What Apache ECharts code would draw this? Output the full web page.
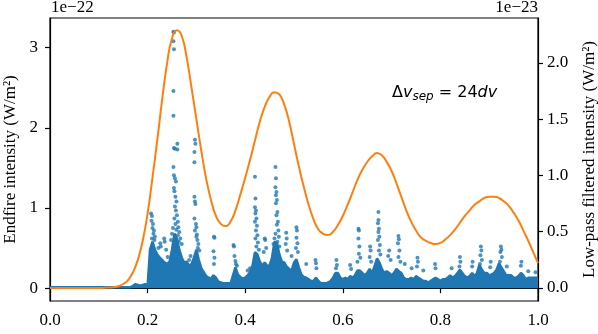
<!DOCTYPE html>
<html>
<head>
<meta charset="utf-8">
<title></title>
<script src="https://cdn.jsdelivr.net/npm/echarts@6/dist/echarts.min.js"></script>
<style>
  html, body { margin: 0; padding: 0; background: #fff; }
  #chart { width: 598px; height: 334px; }
</style>
</head>
<body>
<div id="chart"></div>
<script type="text/javascript">
// endfire intensity, dense part (units of 1e-22), sampled every 0.005 from 0
var coreStep = 0.005;
var coreTop = [
  0.01, 0.01, 0.01, 0.01, 0.01, 0.01, 0.01, 0.01, 0.01, 0.01,
  0.01, 0.01, 0.01, 0.01, 0.01, 0.01, 0.01, 0.01, 0.01, 0.01,
  0.01, 0.01, 0.01, 0.01, 0.01, 0.01, 0.01, 0.01, 0.01, 0.01,
  0.01, 0.01, 0.01, 0.01,
  0.03, 0.05, 0.04, 0.03, 0.04, 0.05, 0.03,
  0.48, 0.58, 0.48, 0.42, 0.38, 0.35, 0.32, 0.30, 0.33, 0.48,
  0.68, 0.62, 0.48, 0.38, 0.32, 0.33, 0.28, 0.30, 0.38, 0.48,
  0.35, 0.25, 0.20, 0.15, 0.13, 0.12, 0.16, 0.13, 0.08, 0.07,
  0.06, 0.06, 0.06, 0.06, 0.16, 0.26, 0.17, 0.14, 0.12,
  0.13, 0.16, 0.20, 0.28, 0.45, 0.42, 0.33, 0.28, 0.32, 0.28,
  0.28, 0.38, 0.58, 0.56, 0.42, 0.33, 0.32, 0.27, 0.24, 0.22,
  0.32, 0.36, 0.26, 0.17, 0.14, 0.13, 0.11, 0.09, 0.09, 0.13,
  0.09, 0.06, 0.06, 0.06, 0.07, 0.09, 0.13, 0.19, 0.19, 0.13,
  0.11, 0.13, 0.11, 0.15, 0.13, 0.16, 0.22, 0.22, 0.19, 0.16,
  0.19, 0.24, 0.19, 0.27, 0.37, 0.32, 0.24, 0.19, 0.21, 0.19,
  0.16, 0.19, 0.24, 0.21, 0.19, 0.13, 0.11, 0.11, 0.13, 0.11,
  0.15, 0.13, 0.11, 0.09, 0.09, 0.07, 0.09, 0.11, 0.13, 0.11,
  0.09, 0.11, 0.11, 0.13, 0.16, 0.13, 0.15, 0.19, 0.23, 0.19,
  0.15, 0.13, 0.15, 0.19, 0.15, 0.19, 0.29, 0.23, 0.19, 0.19,
  0.16, 0.17, 0.19, 0.23, 0.31, 0.26, 0.21, 0.16, 0.16, 0.16,
  0.13, 0.13, 0.15, 0.19, 0.16, 0.11, 0.13, 0.13, 0.13, 0.13,
  0.13
];

// sparse points above the dense part (units of 1e-22)
var spikeX = [
  0.207, 0.209, 0.208, 0.211, 0.210, 0.213, 0.212, 0.215, 0.209, 0.214,
  0.222, 0.226, 0.227, 0.234, 0.235, 0.238, 0.241,
  0.253, 0.254, 0.253, 0.254, 0.253, 0.253, 0.254, 0.256, 0.261, 0.261,
  0.253, 0.254, 0.256, 0.258, 0.254, 0.255, 0.257, 0.259, 0.256, 0.258,
  0.260, 0.255, 0.262, 0.257, 0.263, 0.259, 0.252, 0.265, 0.250, 0.262,
  0.267, 0.248, 0.270, 0.264,
  0.297, 0.298, 0.296, 0.296, 0.296, 0.297, 0.298, 0.296, 0.299, 0.300,
  0.297, 0.301, 0.300, 0.302, 0.304, 0.303, 0.306, 0.288, 0.285,
  0.336, 0.337, 0.335, 0.337, 0.336,
  0.376, 0.377, 0.378, 0.380, 0.381, 0.383, 0.405, 0.410,
  0.420, 0.421, 0.420, 0.422, 0.421, 0.423, 0.420, 0.424, 0.422, 0.425,
  0.421, 0.426, 0.423, 0.428, 0.440, 0.441, 0.443, 0.438,
  0.462, 0.463, 0.462, 0.464, 0.463, 0.465, 0.463, 0.466, 0.464, 0.467,
  0.465, 0.468, 0.462, 0.469, 0.466, 0.470, 0.460, 0.458,
  0.484, 0.485, 0.483, 0.486, 0.505, 0.506, 0.505, 0.507, 0.504, 0.508,
  0.495, 0.525, 0.544, 0.545, 0.546, 0.587, 0.588, 0.586, 0.615, 0.617,
  0.632, 0.633, 0.632, 0.634, 0.633, 0.636, 0.630,
  0.656, 0.657, 0.655, 0.658,
  0.673, 0.673, 0.672, 0.674, 0.673, 0.675, 0.672, 0.676, 0.674, 0.677,
  0.695, 0.693, 0.698, 0.714, 0.715, 0.713, 0.716, 0.714, 0.718, 0.727,
  0.741, 0.753, 0.754, 0.752, 0.765, 0.789, 0.790, 0.823,
  0.840, 0.841, 0.839, 0.866, 0.865,
  0.883, 0.884, 0.882, 0.885, 0.881, 0.903, 0.902,
  0.924, 0.925, 0.923, 0.926, 0.922, 0.936, 0.966, 0.965, 0.980, 0.995
];
var spikeY = [
  0.93, 0.90, 0.84, 0.80, 0.75, 0.72, 0.68, 0.64, 0.62, 0.60,
  0.50, 0.56, 0.52, 0.62, 0.58, 0.48, 0.39,
  3.20, 3.19, 3.08, 2.98, 2.46, 2.15, 1.75, 1.74, 1.80, 1.73,
  1.51, 1.41, 1.37, 1.33, 1.25, 1.21, 1.14, 1.08, 1.02, 0.97,
  0.91, 0.87, 0.83, 0.80, 0.76, 0.73, 0.75, 0.70, 0.68, 0.66,
  0.62, 0.60, 0.55, 0.58,
  1.85, 1.80, 1.70, 1.57, 1.14, 1.08, 1.05, 0.87, 0.80, 0.76,
  0.72, 0.67, 0.64, 0.60, 0.55, 0.50, 0.47, 0.40, 0.35,
  0.64, 0.63, 0.46, 0.38, 0.30,
  0.54, 0.52, 0.40, 0.34, 0.30, 0.28, 0.22, 0.25,
  1.39, 1.12, 1.01, 0.97, 0.93, 0.87, 0.83, 0.78, 0.72, 0.66,
  0.62, 0.57, 0.52, 0.48, 0.62, 0.60, 0.50, 0.45,
  1.51, 1.37, 1.26, 1.20, 1.16, 1.10, 1.06, 0.95, 0.91, 0.83,
  0.79, 0.72, 0.68, 0.64, 0.58, 0.52, 0.62, 0.55,
  0.69, 0.62, 0.55, 0.47, 0.76, 0.72, 0.63, 0.56, 0.50, 0.45,
  0.40, 0.30, 0.35, 0.31, 0.25, 0.35, 0.29, 0.25, 0.29, 0.24,
  0.74, 0.72, 0.62, 0.52, 0.43, 0.38, 0.33,
  0.52, 0.47, 0.39, 0.33,
  0.95, 0.85, 0.81, 0.74, 0.70, 0.64, 0.60, 0.54, 0.47, 0.42,
  0.47, 0.40, 0.35, 0.65, 0.61, 0.56, 0.47, 0.39, 0.33, 0.30,
  0.25, 0.38, 0.33, 0.27, 0.22, 0.30, 0.25, 0.25,
  0.39, 0.33, 0.27, 0.33, 0.27,
  0.52, 0.47, 0.41, 0.35, 0.30, 0.33, 0.26,
  0.52, 0.48, 0.45, 0.39, 0.33, 0.27, 0.33, 0.28, 0.21, 0.20
];

// low-pass filtered intensity (units of 1e-23), sampled every 0.01 from 0
var filtStep = 0.01;
var filtered = [
  0, 0, 0, 0, 0, 0, 0, 0, 0, 0, 0,
  0.001, 0.003, 0.007, 0.015, 0.035, 0.07, 0.14, 0.25, 0.42, 0.66,
  0.98, 1.32, 1.68, 2.00, 2.22, 2.29, 2.24, 2.05, 1.78, 1.50,
  1.22, 0.97, 0.78, 0.64, 0.57, 0.55, 0.59, 0.69, 0.83, 0.98,
  1.14, 1.31, 1.48, 1.61, 1.70, 1.74, 1.72, 1.63, 1.48, 1.28,
  1.08, 0.90, 0.74, 0.61, 0.52, 0.48, 0.47, 0.50, 0.56, 0.64,
  0.74, 0.85, 0.96, 1.05, 1.12, 1.17, 1.20, 1.18, 1.12, 1.04,
  0.93, 0.81, 0.69, 0.59, 0.51, 0.45, 0.42, 0.40, 0.39, 0.40,
  0.43, 0.47, 0.52, 0.58, 0.64, 0.69, 0.74, 0.77, 0.80, 0.81,
  0.81, 0.80, 0.77, 0.73, 0.67, 0.60, 0.51, 0.42, 0.32, 0.22
];

var leftTicks = [0, 1, 2, 3];
var rightTicks = [0, 0.5, 1, 1.5, 2];

var serif = 'Liberation Serif';
var fs = 17;
var blue = '#1f77b4';
var orange = '#ff7f0e';

var coreData = coreTop.map(function (v, i) { return [+(i * coreStep).toFixed(3), v]; });
var spikeData = spikeX.map(function (x, i) { return [x, spikeY[i]]; });
var filtData = filtered.map(function (v, i) { return [+(i * filtStep).toFixed(2), v]; });

var chart = echarts.init(document.getElementById('chart'));
var option = {
  animation: false,
  backgroundColor: '#fff',
  grid: {
    left: 50, right: 60, top: 18, bottom: 33, outerBoundsMode: 'none', containLabel: false,
    show: true, borderColor: '#000', borderWidth: 1.2, backgroundColor: 'transparent'
  },
  xAxis: {
    type: 'value', min: 0, max: 1, interval: 0.2,
    axisLine: { lineStyle: { color: '#000', width: 1.2 } },
    axisTick: { length: 5, lineStyle: { color: '#000', width: 1.2 } },
    axisLabel: {
      color: '#000', fontFamily: serif, fontSize: fs, margin: 11,
      formatter: function (v) { return v.toFixed(1); }
    },
    splitLine: { show: false }
  },
  yAxis: [
    {
      type: 'value', min: -0.16, max: 3.37,
      name: 'Endfire intensity (W/m²)', nameLocation: 'middle', nameGap: 29, nameRotate: 90,
      nameTextStyle: { color: '#000', fontFamily: serif, fontSize: fs },
      axisLine: { show: true, lineStyle: { color: '#000', width: 1.2 } },
      axisTick: { show: true, length: 5, customValues: leftTicks, lineStyle: { color: '#000', width: 1.2 } },
      axisLabel: { color: '#000', fontFamily: serif, fontSize: fs, margin: 12, customValues: leftTicks },
      splitLine: { show: false }
    },
    {
      type: 'value', position: 'right', min: -0.116, max: 2.40,
      name: 'Low-pass filtered intensity (W/m²)', nameLocation: 'middle', nameGap: 43, nameRotate: 90,
      nameTextStyle: { color: '#000', fontFamily: serif, fontSize: fs },
      axisLine: { show: true, lineStyle: { color: '#000', width: 1.2 } },
      axisTick: { show: true, length: 5, customValues: rightTicks, lineStyle: { color: '#000', width: 1.2 } },
      axisLabel: {
        color: '#000', fontFamily: serif, fontSize: fs, margin: 9, customValues: rightTicks,
        formatter: function (v) { return v.toFixed(1); }
      },
      splitLine: { show: false }
    }
  ],
  graphic: [
    { type: 'text', left: 51, top: -1, style: { text: '1e\u221222', fill: '#000', font: fs + 'px "Liberation Serif"' } },
    { type: 'text', right: 60, top: -1, style: { text: '1e\u221223', fill: '#000', font: fs + 'px "Liberation Serif"' } },
    {
      type: 'text', left: 392, top: 85,
      style: {
        text: '{a|\u0394}{i|v}{s|sep}{a| = 24}{i|dv}',
        fill: '#000',
        rich: {
          a: { fontFamily: 'DejaVu Sans', fontSize: 16, fill: '#000' },
          i: { fontFamily: 'DejaVu Sans', fontStyle: 'italic', fontSize: 16, fill: '#000' },
          s: { fontFamily: 'DejaVu Sans', fontStyle: 'italic', fontSize: 12, fill: '#000', padding: [7, 0, 0, 0] }
        }
      }
    }
  ],
  series: [
    {
      type: 'line', xAxisIndex: 0, yAxisIndex: 0, data: coreData,
      symbol: 'none', z: 2,
      lineStyle: { color: blue, width: 2.5 },
      areaStyle: { color: blue, opacity: 1 }
    },
    {
      type: 'scatter', xAxisIndex: 0, yAxisIndex: 0, data: spikeData,
      symbolSize: 4, z: 3,
      itemStyle: { color: blue }
    },
    {
      type: 'line', xAxisIndex: 0, yAxisIndex: 1, data: filtData,
      symbol: 'none', smooth: true, z: 4,
      lineStyle: { color: orange, width: 2 }
    }
  ]
};
chart.setOption(option);
</script>
</body>
</html>
